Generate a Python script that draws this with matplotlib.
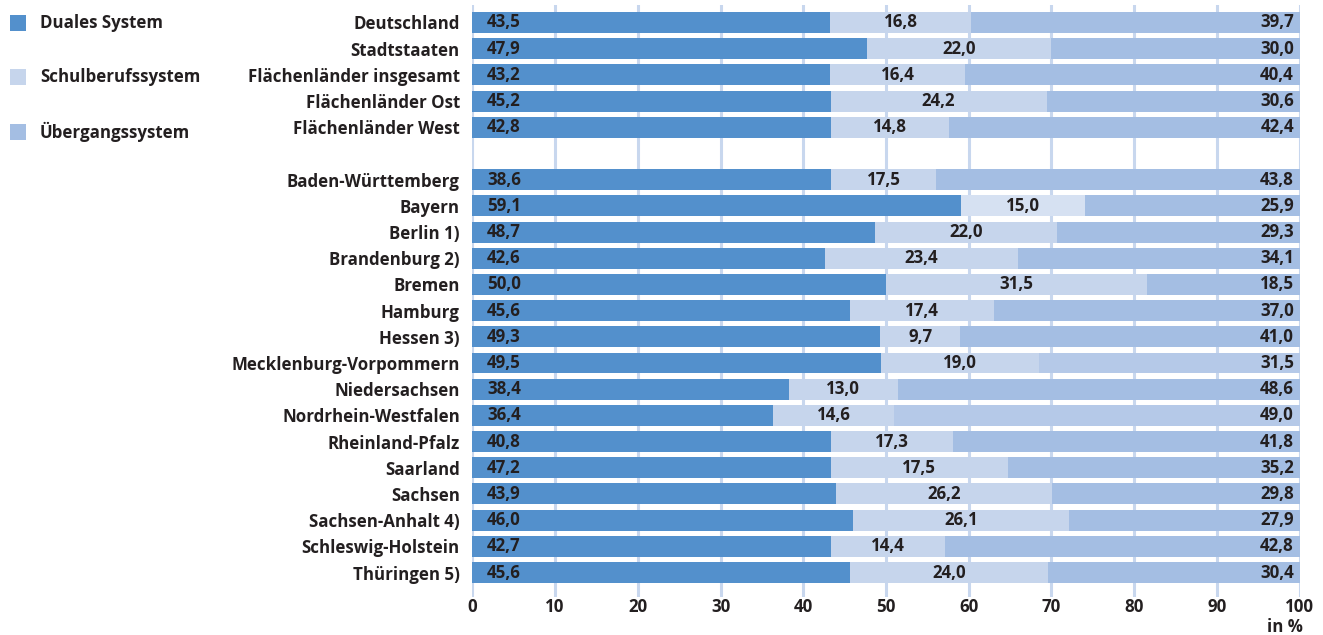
import matplotlib
matplotlib.use("Agg")
import matplotlib.pyplot as plt
from matplotlib.patches import Rectangle

plt.rcParams['font.family'] = ['Open Sans', 'DejaVu Sans']

categories = ["Deutschland", "Stadtstaaten", "Flächenländer insgesamt", "Flächenländer Ost",
              "Flächenländer West",
              "Baden-Württemberg", "Bayern", "Berlin 1)", "Brandenburg 2)", "Bremen", "Hamburg",
              "Hessen 3)", "Mecklenburg-Vorpommern", "Niedersachsen", "Nordrhein-Westfalen",
              "Rheinland-Pfalz", "Saarland", "Sachsen", "Sachsen-Anhalt 4)", "Schleswig-Holstein",
              "Thüringen 5)"]
duales = [43.5, 47.9, 43.2, 45.2, 42.8,
          38.6, 59.1, 48.7, 42.6, 50.0, 45.6, 49.3, 49.5, 38.4, 36.4, 40.8, 47.2, 43.9, 46.0, 42.7, 45.6]
schulberuf = [16.8, 22.0, 16.4, 24.2, 14.8,
              17.5, 15.0, 22.0, 23.4, 31.5, 17.4, 9.7, 19.0, 13.0, 14.6, 17.3, 17.5, 26.2, 26.1, 14.4, 24.0]
uebergang = [39.7, 30.0, 40.4, 30.6, 42.4,
             43.8, 25.9, 29.3, 34.1, 18.5, 37.0, 41.0, 31.5, 48.6, 49.0, 41.8, 35.2, 29.8, 27.9, 42.8, 30.4]
# end of the dark segment as actually drawn in the reference (differs from label in some rows)
duales_bar_end = [43.2, 47.7, 43.2, 43.3, 43.3,
                  43.3, 59.1, 48.7, 42.6, 50.0, 45.7, 49.3, 49.4, 38.3, 36.4, 43.3, 43.3, 43.9, 46.0, 43.3, 45.7]
slots = [0, 1, 2, 3, 4] + list(range(6, 22))
xticks = [0, 10, 20, 30, 40, 50, 60, 70, 80, 90, 100]

c_dual = "#5390cc"
c_schul = "#c6d5ec"
c_ueber = "#a4bee3"
c_grid = "#c8d7ee"
c_text = "#231f20"
schul_color_override = {"Bayern": "#d6e1f2"}
ueber_color_override = {"Mecklenburg-Vorpommern": "#b5c9e8", "Nordrhein-Westfalen": "#b5c9e8"}
FS = 12.2

fig = plt.figure(figsize=(13.23, 6.35), dpi=100)
ax = fig.add_axes([472.3 / 1323, 1 - 597 / 635, (1299.7 - 472.3) / 1323, 592 / 635])
ax.set_xlim(0, 100)
ax.set_ylim(21.935, -0.668)

for t in xticks:
    ax.axvline(t, color=c_grid, lw=2.2, zorder=0)

h = 0.80
fmt = lambda v: f"{v:.1f}".replace(".", ",")
for i, s in enumerate(slots):
    cat = categories[i]
    d_end = duales_bar_end[i]
    s_end = duales[i] + schulberuf[i]
    ax.barh(s, d_end, left=0, height=h, color=c_dual, zorder=2, linewidth=0)
    ax.barh(s, s_end - d_end, left=d_end, height=h, color=schul_color_override.get(cat, c_schul),
            zorder=2, linewidth=0)
    ax.barh(s, 100 - s_end, left=s_end, height=h, color=ueber_color_override.get(cat, c_ueber),
            zorder=2, linewidth=0)
    ax.text(1.8, s, fmt(duales[i]), ha="left", va="center", fontsize=FS, fontweight="bold",
            color=c_text, zorder=3)
    ax.text((d_end + s_end) / 2, s, fmt(schulberuf[i]), ha="center", va="center", fontsize=FS,
            fontweight="bold", color=c_text, zorder=3)
    ax.text(99.3, s, fmt(uebergang[i]), ha="right", va="center", fontsize=FS, fontweight="bold",
            color=c_text, zorder=3)

ax.set_yticks(slots)
ax.set_yticklabels(categories, fontsize=FS, fontweight="bold", color=c_text)
ax.set_xticks(xticks)
ax.set_xticklabels([str(t) for t in xticks], fontsize=FS, fontweight="bold", color=c_text)
ax.tick_params(axis="both", length=0)
ax.tick_params(axis="y", pad=9)
ax.tick_params(axis="x", pad=1)
for sp in ax.spines.values():
    sp.set_visible(False)

fig.text(1303 / 1323, 1 - 627 / 635, "in %", ha="right", va="center", fontsize=FS,
         fontweight="bold", color=c_text)

legend_items = [("Duales System", c_dual, 23), ("Schulberufssystem", c_schul, 77),
                ("Übergangssystem", c_ueber, 132)]
for label, col, yc in legend_items:
    fig.add_artist(Rectangle((10 / 1323, 1 - (yc + 8) / 635), 16 / 1323, 16 / 635,
                             transform=fig.transFigure, color=col, lw=0))
    fig.text(40 / 1323, 1 - yc / 635, label, ha="left", va="center", fontsize=FS,
             fontweight="bold", color=c_text)

fig.savefig("out.png", dpi=100)
